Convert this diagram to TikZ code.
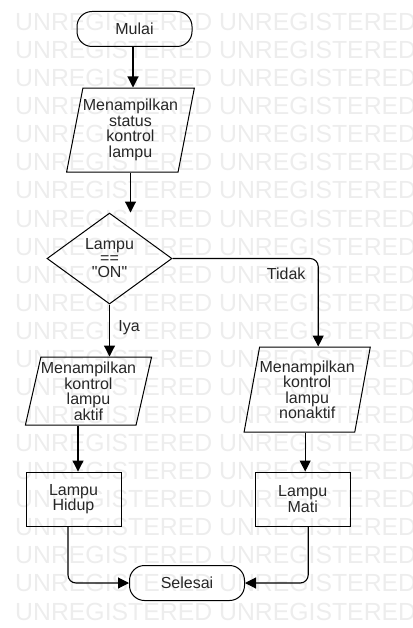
\documentclass[tikz,border=0pt]{standalone}
\usepackage{fontspec}
\setmainfont{Liberation Sans}[Ligatures=TeXOff]
\usetikzlibrary{arrows.meta,positioning,shapes.geometric}

\begin{document}
\begin{tikzpicture}[x=1pt, y=-1pt,
        every node/.style={font=\fontsize{16}{15.5}\selectfont, text=black!85},
        terminal/.style={draw, line width=1pt, rounded corners=15pt, minimum width=115pt, minimum height=35pt},
        io/.style={draw, line width=1pt, trapezium, trapezium left angle=76, trapezium right angle=104, trapezium stretches=true, minimum width=126pt, align=center, inner xsep=0pt, inner ysep=2pt},
        decision/.style={draw, line width=1pt, diamond, minimum width=125pt, minimum height=91pt, inner sep=0pt, align=center, font=\fontsize{16}{14}\selectfont},
        process/.style={draw, line width=1pt, minimum width=95pt, minimum height=54pt, align=center},
        watermark/.style={anchor=west, inner sep=0pt, text=black!7, font=\fontsize{24.8}{25}\selectfont},
        arrow/.style={-{Triangle[length=11pt, width=11pt]}, line width=1.1pt, rounded corners=8pt},
        node distance=40pt
    ]

    \useasboundingbox (0,0) rectangle (412,628);

    % background text of the unregistered editor
    \begin{scope}
        \clip (0,0) rectangle (412,628);
        \foreach \r in {0,...,21}
            \node[watermark] (wm\r) at (15,{22+28.07*\r}) {UNREGISTERED UNREGISTERED};
    \end{scope}

    \node[terminal] (start) at (134.5,29) {Mulai};
    \node[io, below=40.5pt of start, xshift=-4pt, minimum height=84pt] (status) {Menampilkan\\status\\kontrol\\lampu};
    \node[decision, below=40pt of status, xshift=-21pt] (cek) {Lampu\\==\\"ON"};
    \node[io, below=52pt of cek, xshift=-21pt, minimum height=68pt] (on) {Menampilkan\\kontrol\\lampu\\aktif};
    \node[io, right=107pt of on, yshift=1.5pt, minimum height=85pt] (off) {Menampilkan\\kontrol\\lampu\\nonaktif};
    \node[process, below=46pt of on, xshift=-15pt] (hidup) {Lampu\\Hidup};
    \node[process, below=39pt of off, xshift=-4.5pt] (mati) {Lampu\\Mati};
    \node[terminal] (end) at (187,583) {Selesai};

    \draw[arrow] ([xshift=-1.5pt]start.south) -- ([xshift=-1.5pt]start.south |- status.north);
    \draw[arrow] (status.south) -- (status.south |- cek.north);
    \draw[arrow] (cek.south) -- node[right=5pt, pos=.45] (iya) {Iya} (cek.south |- on.north);
    \draw[arrow] (cek.east) -| node[below=6pt, pos=.39] (tidak) {Tidak} ([xshift=11pt]off.north);
    \draw[arrow] ([xshift=-10.5pt]on.south) -- ([xshift=-10.5pt]on.south |- hidup.north);
    \draw[arrow] ([xshift=-2pt]off.south) -- ([xshift=-2pt]off.south |- mati.north);
    \draw[arrow] ([xshift=-5.5pt]hidup.south) |- (end.west);
    \draw[arrow] ([xshift=5.5pt]mati.south) |- (end.east);

\end{tikzpicture}
\end{document}
